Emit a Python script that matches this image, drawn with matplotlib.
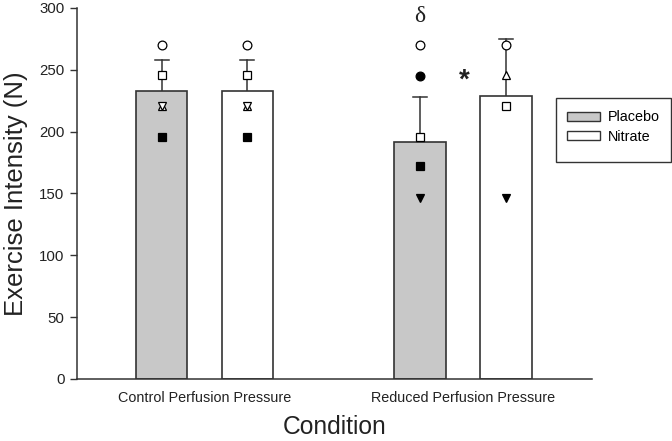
import matplotlib
matplotlib.use("Agg")
import matplotlib.pyplot as plt
from matplotlib.patches import Patch, Rectangle

plt.rcParams['font.family'] = ['Liberation Sans', 'DejaVu Sans']

conditions = ["Control Perfusion Pressure", "Reduced Perfusion Pressure"]
groups = ["Placebo", "Nitrate"]
means = {"Placebo": [233, 192], "Nitrate": [233, 229]}
sd_upper = {"Placebo": [258, 228], "Nitrate": [258, 275]}

# individual data points: (value, marker, filled)
indiv = {
    ("Placebo", 0): [(270, 'o', False), (246, 's', False), (221, '^', False), (221, 'v', False), (196, 's', True)],
    ("Nitrate", 0): [(270, 'o', False), (246, 's', False), (221, '^', False), (221, 'v', False), (196, 's', True)],
    ("Placebo", 1): [(270, 'o', False), (245, 'o', True), (196, 's', False), (172, '^', True), (172, 'v', True), (172, 's', True), (146, 'v', True)],
    ("Nitrate", 1): [(270, 'o', False), (246, '^', False), (221, 's', False), (146, 'v', True)],
}
colors = {"Placebo": "#c8c8c8", "Nitrate": "#ffffff"}
offsets = {"Placebo": -0.166, "Nitrate": 0.166}
width = 0.2
edge = "#333333"

fig = plt.figure(figsize=(6.72, 4.41), dpi=100)
ax = fig.add_axes([0.1146, 0.1406, 0.881 - 0.1146, 0.9819 - 0.1406])

for g in groups:
    for i, c in enumerate(conditions):
        x = i + offsets[g]
        m = means[g][i]
        ax.plot([x, x], [m, sd_upper[g][i]], color=edge, lw=1.1, zorder=1)
        ax.plot([x - 0.027, x + 0.027], [sd_upper[g][i]] * 2, color=edge, lw=1.1, zorder=1)
        ax.bar(x, m, width=width, color=colors[g], edgecolor=edge, linewidth=1.2, zorder=2)
        for (v, mk, filled) in indiv[(g, i)]:
            if mk == 's':
                ms = 5.8
            elif mk in ('^', 'v') and filled and (g, i) == ("Placebo", 1) and v == 172:
                ms = 5.0
            else:
                ms = 6.3
            ax.plot(x, v, marker=mk, ms=ms, mfc='black' if filled else 'white',
                    mec='black', mew=0.9, ls='none', zorder=3)

# significance symbols
ax.text(1 + offsets["Placebo"], 293, "δ", ha='center', va='center', fontsize=17,
        family=['Liberation Serif', 'DejaVu Serif'], color='#222222')
ax.text(1.005, 241.5, "*", ha='center', va='center', fontsize=20, fontweight='bold', color='#222222')

ax.set_xlim(-0.493, 1.499)
ax.set_ylim(0, 300)
ax.set_yticks(range(0, 301, 50))
ax.set_xticks([0, 1])
ax.set_xticklabels(conditions, fontsize=10.4, color='#222222')
ax.tick_params(axis='x', length=0, pad=9)
ax.tick_params(axis='y', direction='out', length=5, width=1, labelsize=10.8, colors='#333333', labelcolor='#222222', pad=4)
for s in ['top', 'right']:
    ax.spines[s].set_visible(False)
for s in ['left', 'bottom']:
    ax.spines[s].set_color('#333333')
    ax.spines[s].set_linewidth(1.1)
ax.set_ylabel("Exercise Intensity (N)", fontsize=18.5, color='#222222', labelpad=8)
ax.set_xlabel("Condition", fontsize=17.7, color='#222222', labelpad=7)

# legend frame drawn as a figure rectangle
W, H = 672.0, 441.0
fig.patches.append(Rectangle((555.7 / W, 1 - 162 / H), 115 / W, 64.3 / H, transform=fig.transFigure,
                             facecolor='white', edgecolor='#333333', linewidth=1.0, zorder=5))
handles = [Patch(facecolor=colors[g], edgecolor=edge, linewidth=1.0, label=g) for g in groups]
leg = fig.legend(handles=handles, loc='upper left', bbox_to_anchor=(556 / W, 1 - 99.5 / H),
                 bbox_transform=fig.transFigure, fontsize=10.4, frameon=False,
                 borderpad=0.75, borderaxespad=0, handlelength=2.3,
                 handleheight=0.62, labelspacing=0.38, handletextpad=0.55)
leg.set_zorder(6)

fig.savefig("out.png", dpi=100)
